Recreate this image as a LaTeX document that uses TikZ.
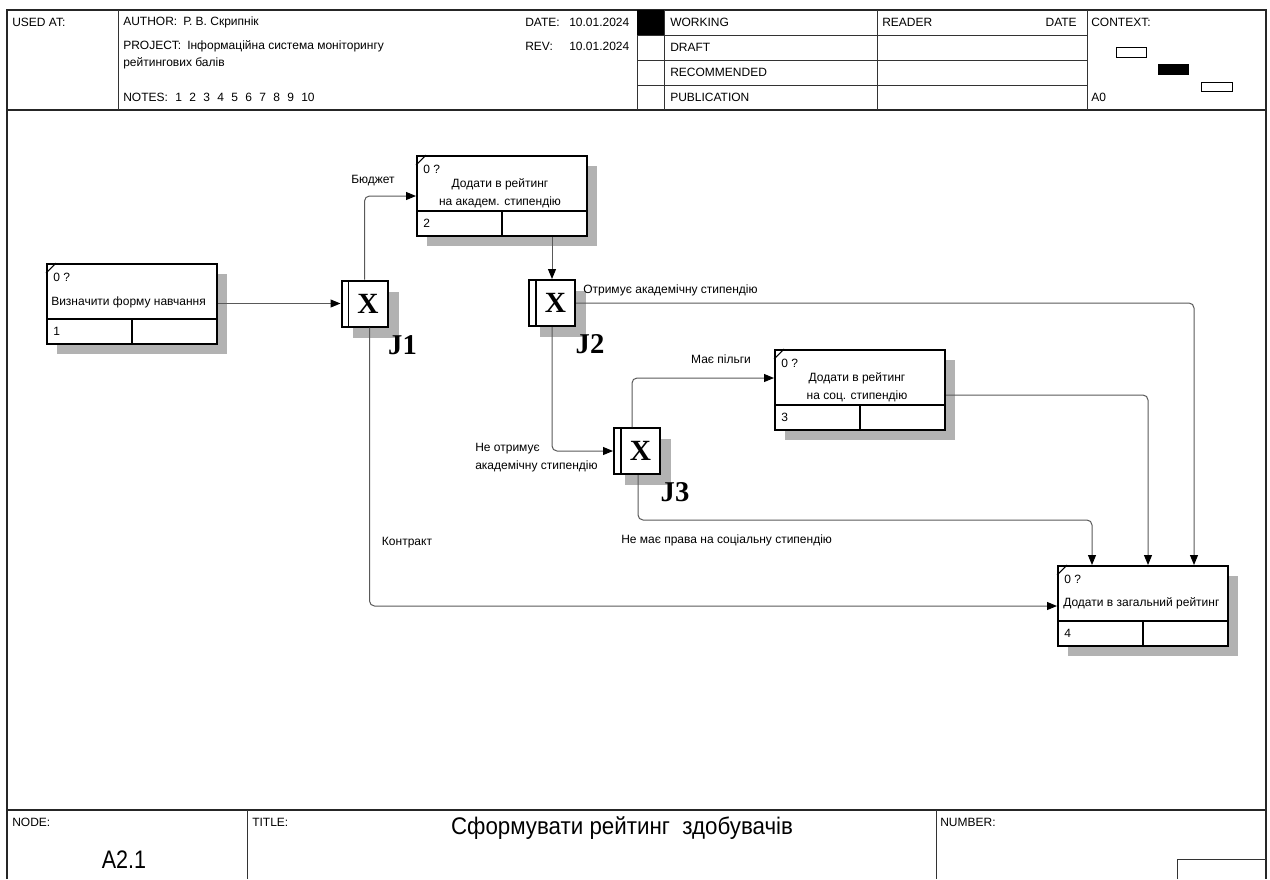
\documentclass[tikz,border=0pt]{standalone}
\usepackage{fontspec}
\setmainfont{Liberation Sans}
\newfontfamily\jfont{Liberation Serif}
\newfontfamily\titlefont[FakeStretch=0.93]{Liberation Sans}
\newfontfamily\nodefont[FakeStretch=0.85]{Liberation Sans}
\usetikzlibrary{arrows.meta,calc}

\tikzset{
  frame/.style={line width=0.9pt, draw=black!85},
  grid/.style={line width=0.75pt, draw=black!80},
  hdr/.style={font=\fontsize{9}{10.5}\selectfont, anchor=west, inner sep=0pt},
  shadow/.style={fill=black!30},
  actbox/.style={draw, line width=1.5pt, fill=white, minimum width=127.5pt,
    minimum height=60pt, inner sep=0pt, anchor=north west},
  boxline/.style={line width=1.5pt},
  cornermark/.style={line width=0.8pt},
  btext/.style={font=\fontsize{9}{13.8}\selectfont, inner sep=0pt},
  jbox/.style={draw, line width=1.5pt, fill=white, minimum size=34.5pt, inner sep=0pt},
  jx/.style={font=\jfont\bfseries\fontsize{22}{22}\selectfont, inner sep=0pt},
  jlab/.style={font=\jfont\bfseries\fontsize{21.5}{21.5}\selectfont, inner sep=0pt},
  conn/.style={draw=black!65, line width=0.75pt, rounded corners=3.75pt,
    -{Triangle[length=7.5pt,width=6pt,color=black]}},
  lab/.style={font=\fontsize{9}{14}\selectfont, inner sep=0pt},
}

% activity box: name, top-left x, top-left y, box number
\newcommand\actblock[4]{%
  \fill[shadow] (#2+11,#3+11) rectangle (#2+181,#3+91);
  \node[actbox] (#1) at (#2,#3) {};
  \draw[boxline] (#2,#3+56) -- (#2+170,#3+56);
  \draw[boxline] (#2+86,#3+56) -- (#2+86,#3+80);
  \draw[cornermark] (#2,#3+10) -- (#2+10,#3);
  \node[btext, anchor=west] (#1-id) at (#2+7,#3+14) {0 ?};
  \node[btext, anchor=west] (#1-num) at (#2+7,#3+68) {#4};
}

% junction: name, centre x, centre y, label
\newcommand\junction[4]{%
  \fill[shadow] (#2-12,#3-12) rectangle (#2+34,#3+34);
  \node[jbox] (#1) at (#2,#3) {};
  \draw[line width=1.2pt] (#2-16,#3-23) -- (#2-16,#3+23);
  \node[jx] (#1-x) at (#2+3.5,#3) {X};
  \node[jlab] (#1-lab) at (#2+38,#3+41.5) {#4};
}

\newcommand\nsp{\hspace{5.5pt}}

\begin{document}
\begin{tikzpicture}[x=0.75pt, y=-0.75pt]
\useasboundingbox (0,0) rectangle (1270,879);

% ---------- form frame ----------
\draw[frame] (7,879) -- (7,10) -- (1266,10) -- (1266,879);
\draw[frame] (7,110) -- (1266,110);
\draw[frame] (7,810) -- (1266,810);
\foreach \gx in {118,637,664,877,1087}
  \draw[grid] (\gx,10) -- (\gx,110);
\foreach \gy in {35,60,85}
  \draw[grid] (637,\gy) -- (1087,\gy);
\fill (637,10) rectangle (664,35);

% header texts
\node[hdr] (usedat) at (12,22) {USED AT:};
\node[hdr] (author) at (123,22) {AUTHOR:\enspace Р. В. Скрипнік};
\node[hdr] (project) at (123,46) {PROJECT:\enspace Інформаційна система моніторингу};
\node[hdr] (project2) at (123,63) {рейтингових балів};
\node[hdr] (notes) at (123,97) {NOTES:\nsp 1\nsp 2\nsp 3\nsp 4\nsp 5\nsp 6\nsp 7\nsp 8\nsp 9\nsp 10};
\node[hdr] (date) at (525,22) {DATE:};
\node[hdr] (dateval) at (569,22) {10.01.2024};
\node[hdr] (rev) at (525,46) {REV:};
\node[hdr] (revval) at (569,46) {10.01.2024};
\node[hdr] (working) at (670,22) {WORKING};
\node[hdr] (draft) at (670,47) {DRAFT};
\node[hdr] (recommended) at (670,72) {RECOMMENDED};
\node[hdr] (publication) at (670,97) {PUBLICATION};
\node[hdr] (reader) at (882,22) {READER};
\node[hdr, anchor=east] (rdate) at (1077,22) {DATE};
\node[hdr] (context) at (1091,22) {CONTEXT:};
\node[hdr] (azero) at (1091,97) {A0};
\draw[line width=0.75pt] (1116,47) rectangle (1146,57);
\fill (1158,64) rectangle (1189,75);
\draw[line width=0.75pt] (1201,82) rectangle (1232,91);

% footer
\foreach \gx in {247,936}
  \draw[grid] (\gx,810) -- (\gx,879);
\draw[grid] (1177,879) -- (1177,859) -- (1266,859);
\node[hdr] (nodelbl) at (12,822) {NODE:};
\node[hdr] (titlelbl) at (252,822) {TITLE:};
\node[hdr] (numberlbl) at (940,822) {NUMBER:};
\node[inner sep=0pt, font=\nodefont\fontsize{19}{19}\selectfont] (nodeval) at (124,860) {A2.1};
\node[inner sep=0pt, font=\titlefont\fontsize{18}{18}\selectfont] (title) at (622,828) {Сформувати рейтинг\ \ здобувачів};

% ---------- activity boxes ----------
\actblock{b1}{46}{263}{1}
\actblock{b2}{416}{155}{2}
\actblock{b3}{774}{349}{3}
\actblock{b4}{1057}{565}{4}
\node[btext, anchor=west] (b1-t) at (51,302) {Визначити форму навчання};
\node[btext, align=center] (b2-t) at (500,193.5) {Додати в рейтинг\\на академ. стипендію};
\node[btext, align=center] (b3-t) at (857,387) {Додати в рейтинг\\на соц. стипендію};
\node[btext, anchor=west] (b4-t) at (1063,603) {Додати в загальний рейтинг};

% ---------- junctions ----------
\junction{j1}{364.5}{303.5}{J1}
\junction{j2}{552}{303}{J2}
\junction{j3}{637}{451}{J3}

% ---------- connectors ----------
\draw[conn] (b1.east |- j1.west) -- (j1.west);
\draw[conn] (j1.north) |- (b2.west);
\draw[conn] ([xshift=3.75pt]j1.south) |- (b4.west);
\draw[conn] (b2.south -| j2.north) -- (j2.north);
\coordinate (b4in1) at ($(b4.north west)+(35,0)$);
\coordinate (b4in2) at ($(b4.north west)+(91,0)$);
\coordinate (b4in3) at ($(b4.north west)+(137,0)$);
\draw[conn] (j2.east) -| (b4in3);
\draw[conn] (j2.south) |- (j3.west);
\draw[conn] ([xshift=-3.75pt]j3.north) |- ($(b3.north west)+(0,29)$);
\draw[conn] ($(b3.north east)+(0,46)$) -| (b4in2);
\draw[conn] ([xshift=0.75pt]j3.south) |- ($(b4in1)+(0,-45)$) -- (b4in1);

% connector labels
\node[lab] (l-budget) at (373,181) {Бюджет};
\node[lab] (l-contract) at (407,543) {Контракт};
\node[lab, anchor=west] (l-acad) at (583,290) {Отримує академічну стипендію};
\node[lab] (l-benefit) at (721,359) {Має пільги};
\node[lab, anchor=west, align=left] (l-noacad) at (475,457.5) {Не отримує\\академічну стипендію};
\node[lab, anchor=west] (l-nosoc) at (621,540) {Не має права на соціальну стипендію};
\end{tikzpicture}
\end{document}
